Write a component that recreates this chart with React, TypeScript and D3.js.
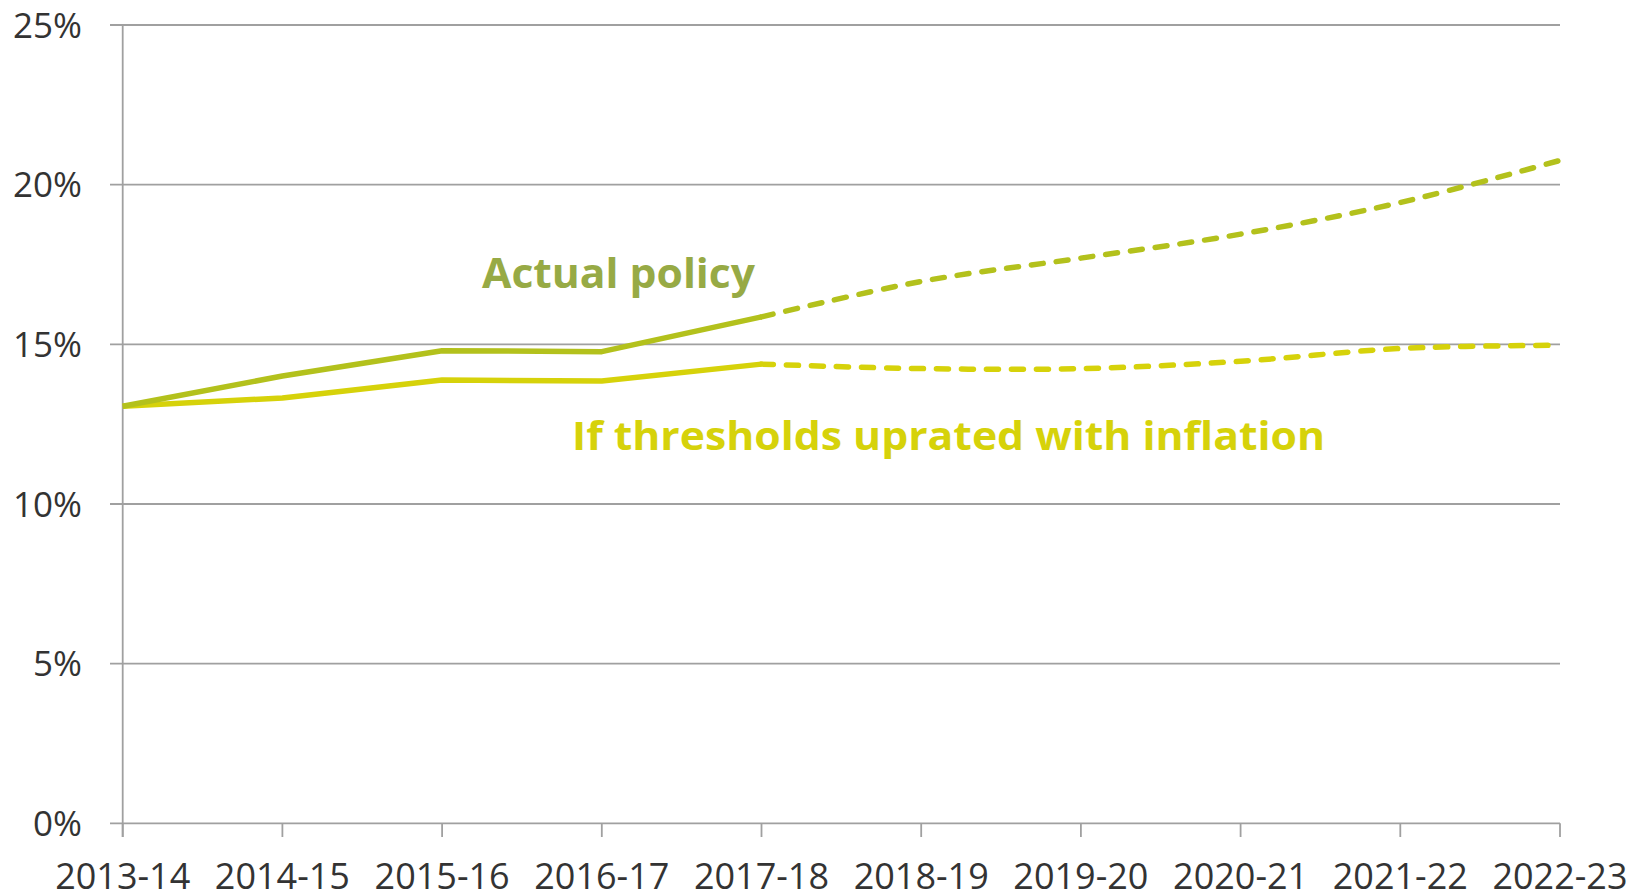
import React from "react";
import * as d3 from "d3";

const years = ["2013-14","2014-15","2015-16","2016-17","2017-18","2018-19","2019-20","2020-21","2021-22","2022-23"];
const actualPolicy = [13.06, 14.01, 14.80, 14.77, 15.86, 16.97, 17.70, 18.45, 19.44, 20.76];
const inflationUprated = [13.06, 13.32, 13.88, 13.85, 14.38, 14.24, 14.24, 14.47, 14.87, 14.97];
const yTicks = [0, 5, 10, 15, 20, 25];
const splitIndex = 4; // solid up to 2017-18, dashed (projected) after

const W = 1645, H = 894;
const left = 122.7, right = 1560, top = 25, bottom = 823.3;

export default function App() {
  const x = d3.scalePoint<string>().domain(years).range([left, right]);
  const y = d3.scaleLinear().domain([0, 25]).range([bottom, top]);

  const solid = d3.line<number>().x((_, i) => x(years[i])!).y(d => y(d));
  const dashed = d3.line<[string, number]>()
    .x(d => x(d[0])!).y(d => y(d[1]))
    .curve(d3.curveCatmullRom.alpha(0));

  const seg = (vals: number[]) => ({
    solid: solid(vals.slice(0, splitIndex + 1)) || "",
    dashed: dashed(vals.slice(splitIndex).map((v, i) => [years[i + splitIndex], v] as [string, number])) || "",
  });
  const a = seg(actualPolicy);
  const b = seg(inflationUprated);

  const grid = "#a0a0a0";
  const font = "'Open Sans', 'Noto Sans', sans-serif";
  const cActual = "#b3c11c";
  const cActualLabel = "#97aa45";
  const cInfl = "#d6d20a";

  return (
    <svg width={W} height={H} style={{ position: "absolute", left: 0, top: 0, background: "#fff" }}>
      {yTicks.map(t => (
        <g key={t}>
          <line x1={110} x2={right} y1={y(t)} y2={y(t)} stroke={grid} strokeWidth={1.8} />
          <text x={82} y={y(t)} dy="0.36em" textAnchor="end" fontFamily={font} fontSize={35} fill="#333">{t}%</text>
        </g>
      ))}
      <line x1={left} x2={left} y1={top} y2={837} stroke={grid} strokeWidth={1.8} />
      {years.map(yr => (
        <g key={yr}>
          <line x1={x(yr)} x2={x(yr)} y1={bottom} y2={837} stroke={grid} strokeWidth={1.8} />
          <text x={x(yr)} y={889} textAnchor="middle" fontFamily={font} fontSize={36} fill="#333">{yr}</text>
        </g>
      ))}

      <path d={b.solid} fill="none" stroke={cInfl} strokeWidth={5.5} strokeLinejoin="round" />
      <path d={b.dashed} fill="none" stroke={cInfl} strokeWidth={5.5} strokeDasharray="12 13" strokeLinecap="round" />
      <path d={a.solid} fill="none" stroke={cActual} strokeWidth={5.5} strokeLinejoin="round" />
      <path d={a.dashed} fill="none" stroke={cActual} strokeWidth={5.5} strokeDasharray="12 13" strokeLinecap="round" />

      <text x={482} y={288} fontFamily={font} fontWeight="bold" fontSize={41} fill={cActualLabel}
        textLength={273} lengthAdjust="spacingAndGlyphs">Actual policy</text>
      <text x={572} y={450} fontFamily={font} fontWeight="bold" fontSize={39} fill={cInfl}
        textLength={753} lengthAdjust="spacingAndGlyphs">If thresholds uprated with inflation</text>
    </svg>
  );
}
